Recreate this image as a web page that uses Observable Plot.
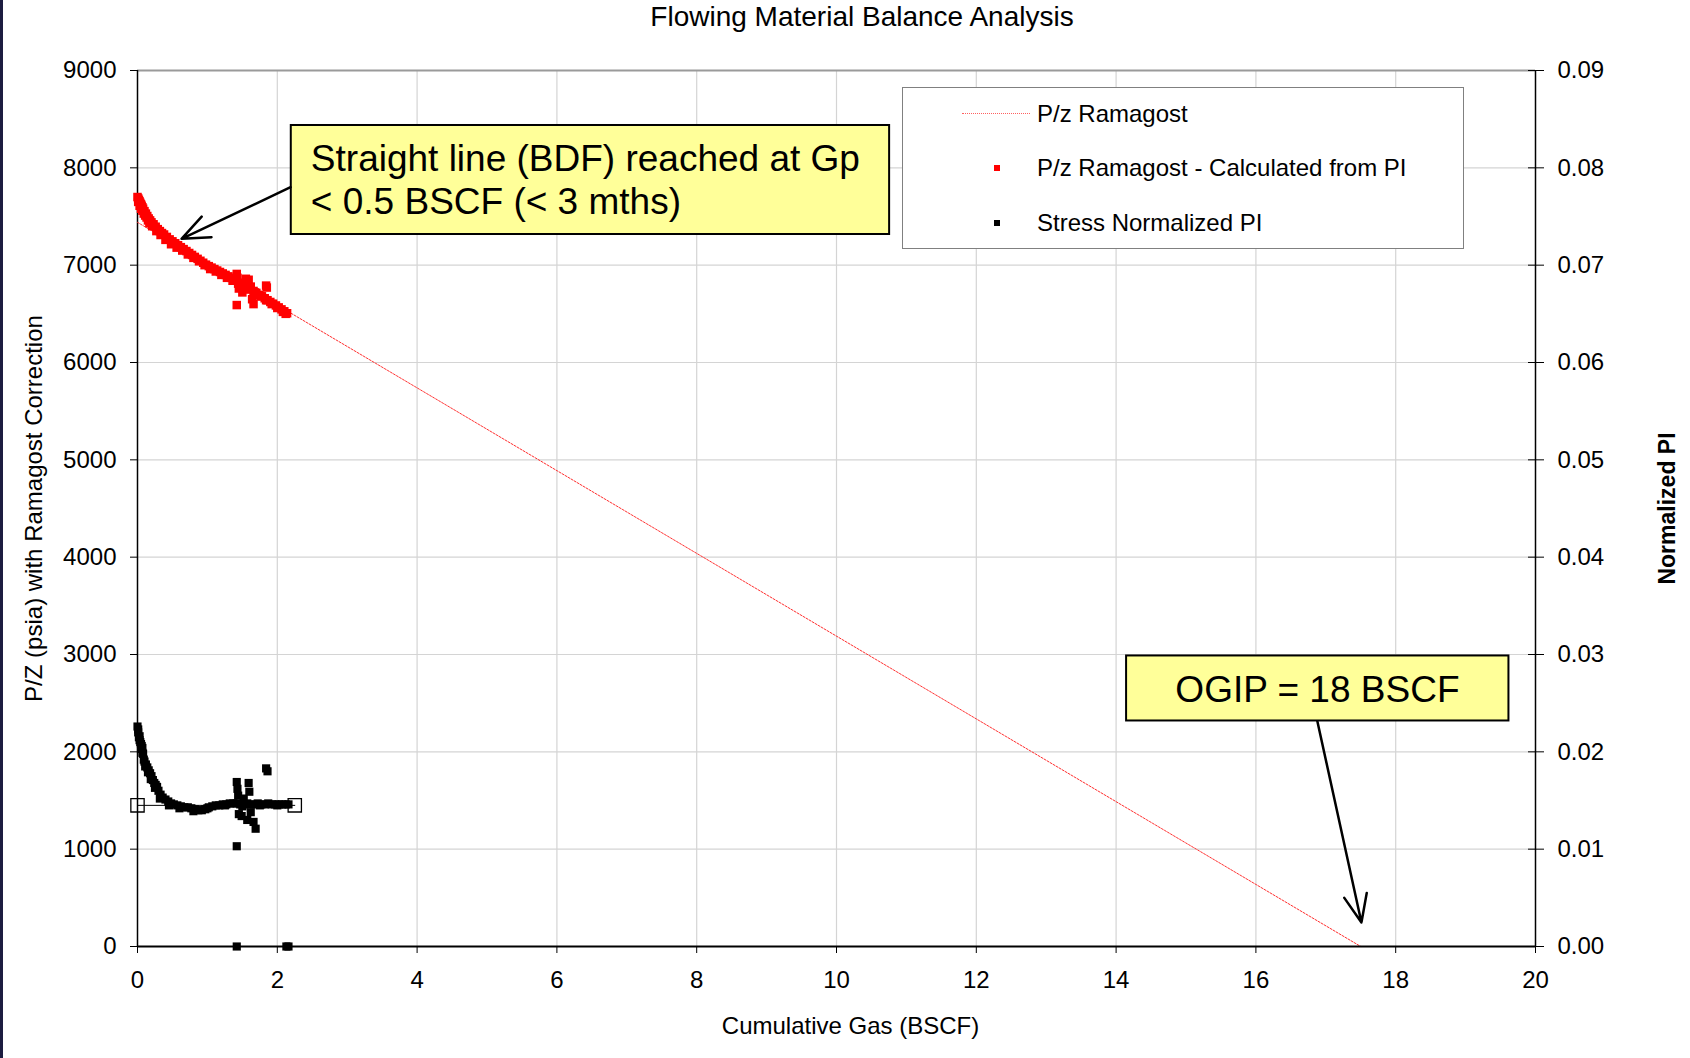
<!DOCTYPE html>
<html>
<head>
<meta charset="utf-8">
<script src="https://cdn.jsdelivr.net/npm/d3@7"></script>
<script src="https://cdn.jsdelivr.net/npm/@observablehq/plot@0.6"></script>
<style>
  html, body { margin: 0; padding: 0; background: #fff; }
  body { width: 1690px; height: 1058px; position: relative; overflow: hidden; font-family: "Liberation Sans", Arial, sans-serif; }
  #edge { position: absolute; left: 0; top: 0; width: 3px; height: 1058px; background: #1c1c40; }
  #title { height: 40px; line-height: 34px; font-size: 28px; text-align: center; padding-left: 34px; color: #000; }
  #legend { position: absolute; left: 902px; top: 87px; width: 560px; height: 160px; border: 1.5px solid #808080; background: #fff; font-size: 24px; }
  #legend .row { position: absolute; left: 0; height: 30px; width: 100%; }
  #legend .lbl { position: absolute; left: 134px; top: 0; line-height: 30px; white-space: nowrap; }
  #legend .ln { position: absolute; left: 59px; top: 14px; width: 68px; height: 0; border-top: 1.5px dotted #ff6060; }
  #legend .sq { position: absolute; left: 91px; top: 12px; width: 6px; height: 6px; }
</style>
</head>
<body>
<div id="edge"></div>
<div id="title">Flowing Material Balance Analysis</div>
<div id="chart"></div>
<div id="legend"></div>
<script>
// ---- Data ----
// P/z Ramagost - Calculated from PI (Cumulative gas BSCF, P/z psia)
const redX = [0.00,0.01,0.02,0.03,0.04,0.05,0.06,0.07,0.08,0.10,0.12,0.14,0.16,0.18,0.20,0.23,0.26,0.29,0.32,0.35,0.38,0.42,0.46,0.50,0.54,0.58,0.62,0.66,0.70,0.74,0.78,0.82,0.86,0.90,0.94,0.98,1.02,1.06,1.10,1.14,1.18,1.22,1.26,1.30,1.34,1.38,1.42,1.46,1.50,1.54,1.58,1.62,1.66,1.70,1.74,1.78,1.82,1.86,1.90,1.94,1.98,2.02,2.06,2.10,2.14,
  0.01,0.03,0.05,0.07,0.09,0.11,0.13,0.15,0.17,0.21,0.27,0.33,0.40,0.48,0.56,0.64,0.72,0.80,0.88,0.96,1.04,1.12,1.20,1.28,1.36,1.44,1.52,1.60,1.68,1.76,1.84,1.92,2.00,2.08,2.12,
  1.42,1.43,1.42,1.45,1.50,1.55,1.59,1.62,1.64,1.66,1.84,1.85];
const redY = [7700,7685,7670,7655,7640,7625,7610,7595,7580,7555,7530,7505,7480,7460,7440,7420,7395,7370,7350,7330,7315,7290,7265,7245,7225,7205,7185,7165,7145,7125,7105,7085,7065,7045,7025,7005,6990,6975,6960,6945,6930,6915,6900,6885,6870,6855,6840,6820,6805,6790,6770,6755,6735,6715,6695,6680,6660,6640,6622,6604,6586,6566,6546,6526,6506,
  7650,7610,7580,7560,7530,7510,7490,7460,7430,7400,7350,7310,7260,7215,7180,7150,7110,7075,7040,7000,6960,6935,6900,6870,6840,6810,6785,6750,6720,6680,6640,6600,6560,6520,6500,
  6910,6870,6590,6760,6720,6860,6850,6780,6650,6600,6790,6770];

// Stress Normalized PI (Cumulative gas BSCF, normalized PI)
const piX = [0.00,0.01,0.02,0.03,0.04,0.05,0.06,0.07,0.08,0.09,0.10,0.12,0.14,0.16,0.18,0.20,0.22,0.24,0.26,0.28,0.30,0.33,0.36,0.40,0.44,0.48,0.52,0.57,0.62,0.67,0.72,0.77,0.82,0.87,0.92,0.97,1.02,1.07,1.12,1.17,1.22,1.27,1.32,1.37,1.42,1.47,1.52,1.57,1.62,1.67,1.72,1.77,1.82,1.87,1.92,1.97,2.02,2.07,2.12,2.16,
  0.01,0.03,0.05,0.07,0.11,0.15,0.19,0.25,0.32,0.45,0.60,0.80,1.00,1.25,1.50,1.75,2.00,
  1.42,1.43,1.44,1.45,1.49,1.52,1.57,1.59,1.60,1.62,1.66,1.69,1.84,1.86,1.42,1.42,2.13,2.16];
const piY = [0.0226,0.0220,0.0215,0.0212,0.0210,0.0208,0.0206,0.0204,0.0198,0.0192,0.0190,0.0187,0.0184,0.0181,0.0178,0.0175,0.0171,0.0168,0.0166,0.0164,0.0160,0.0156,0.0153,0.0151,0.0149,0.0147,0.0146,0.0145,0.0144,0.0143,0.0143,0.0142,0.0141,0.0140,0.0140,0.0141,0.0143,0.0144,0.0145,0.0145,0.0146,0.0146,0.0147,0.0147,0.0147,0.0146,0.0146,0.0147,0.0146,0.0146,0.0147,0.0146,0.0146,0.0147,0.0146,0.0146,0.0146,0.0146,0.0146,0.0146,
  0.0223,0.0216,0.0203,0.0199,0.0185,0.0179,0.0172,0.0163,0.0152,0.0145,0.0142,0.0139,0.0142,0.0145,0.0144,0.0145,0.0145,
  0.0169,0.0162,0.0155,0.0136,0.0134,0.0152,0.0130,0.0168,0.0159,0.0138,0.0128,0.0121,0.0183,0.0180,0.0103,0.0000,0.0000,0.0000];

// Average PI reference line (hollow squares at ends)
const avgX = [0.00, 2.25];
const avgPI = [0.0145, 0.0145];

// P/z Ramagost straight line
const lineX = [0, 17.5];
const lineY = [7440, 0];

// Tick values
const xTicks = [0,2,4,6,8,10,12,14,16,18,20];
const yTicks = [0,1000,2000,3000,4000,5000,6000,7000,8000,9000];
const piTickLabels = ["0.00","0.01","0.02","0.03","0.04","0.05","0.06","0.07","0.08","0.09"];

// Annotations
const note1Text = ["Straight line (BDF) reached at Gp\n< 0.5 BSCF (< 3 mths)"];
const note2Text = ["OGIP = 18 BSCF"];

// ---- Build ----
const PI_TO_Y = 100000; // right axis 0..0.09 maps onto left 0..9000
const red = redX.map((x, i) => ({x, y: redY[i]}));
const pi = piX.map((x, i) => ({x, y: piY[i] * PI_TO_Y}));
const avg = avgX.map((x, i) => ({x, y: avgPI[i] * PI_TO_Y}));
const ramLine = lineX.map((x, i) => ({x, y: lineY[i]}));

const boxes = [
  {x1: 2.20, x2: 10.76, y1: 7315, y2: 8435},
  {x1: 14.15, x2: 19.62, y1: 2317, y2: 2985}
];
const arrows = [
  {x1: 2.19, y1: 7801, x2: 0.63, y2: 7271},
  {x1: 16.88, y1: 2312, x2: 17.51, y2: 247}
];

const fontFamily = "'Liberation Sans', Arial, sans-serif";

const chart = Plot.plot({
  width: 1690,
  height: 1018,
  marginLeft: 137,
  marginRight: 155,
  marginTop: 30,
  marginBottom: 112,
  x: {domain: [0, 20]},
  y: {domain: [0, 9000]},
  style: {fontFamily, background: "transparent", overflow: "visible", color: "#000"},
  marks: [
    Plot.gridX(xTicks.filter(d => d > 0 && d < 20), {stroke: "#d4d4d4", strokeOpacity: 1, strokeWidth: 1.2}),
    Plot.gridY(yTicks.filter(d => d > 0 && d < 9000), {stroke: "#d4d4d4", strokeOpacity: 1, strokeWidth: 1.2}),
    Plot.ruleY([9000], {stroke: "#9a9a9a", strokeWidth: 2}),
    Plot.axisX({ticks: xTicks, tickSize: 7, tickPadding: 17, fontSize: 24, label: null, tickFormat: d => String(d)}),
    Plot.axisY({ticks: yTicks, anchor: "left", tickSize: 7, tickPadding: 14, fontSize: 24, label: null, tickFormat: d => String(d)}),
    Plot.axisY({ticks: yTicks, anchor: "right", tickSize: 8, tickPadding: 14, fontSize: 24, label: null, tickFormat: (d, i) => piTickLabels[i]}),
    Plot.ruleY(yTicks, {x1: 19.9, x2: 20, stroke: "#000", strokeWidth: 1}),
    Plot.ruleX([0], {stroke: "#000", strokeWidth: 1.5}),
    Plot.ruleX([20], {stroke: "#000", strokeWidth: 1.5}),
    Plot.line(ramLine, {x: "x", y: "y", stroke: "#ff3030", strokeWidth: 1, strokeDasharray: "2,1.5"}),
    Plot.dot(red, {x: "x", y: "y", symbol: "square", r: 4.8, fill: "#ff0000", stroke: "none"}),
    Plot.line(avg, {x: "x", y: "y", stroke: "#000", strokeWidth: 1}),
    Plot.dot(pi, {x: "x", y: "y", symbol: "square", r: 4.6, fill: "#000", stroke: "none"}),
    Plot.dot(avg, {x: "x", y: "y", symbol: "square", r: 7.5, fill: "none", stroke: "#000", strokeWidth: 1.3}),
    Plot.ruleY([0], {stroke: "#000", strokeWidth: 2}),
    Plot.rect(boxes, {x1: "x1", x2: "x2", y1: "y1", y2: "y2", fill: "#ffff99", stroke: "#000", strokeWidth: 2}),
    Plot.arrow(arrows, {x1: "x1", y1: "y1", x2: "x2", y2: "y2", stroke: "#000", strokeWidth: 2.5, headLength: 18, headAngle: 45}),
    Plot.text(note1Text, {x: 2.48, y: 8275, text: d => d, textAnchor: "start", lineAnchor: "top", lineHeight: 1.15, fontSize: 37, fill: "#000"}),
    Plot.text(note2Text, {x: 16.88, y: 2630, text: d => d, textAnchor: "middle", fontSize: 37, fill: "#000"}),
    Plot.text(["P/Z (psia) with Ramagost Correction"], {frameAnchor: "left", textAnchor: "middle", rotate: -90, dx: -103, dy: 0, fontSize: 24, fill: "#000"}),
    Plot.text(["Normalized PI"], {frameAnchor: "right", textAnchor: "middle", rotate: -90, dx: 132, dy: 0, fontSize: 23, fontWeight: "bold", fill: "#000"}),
    Plot.text(["Cumulative Gas (BSCF)"], {frameAnchor: "bottom", dx: 14, dy: 87, fontSize: 24, fill: "#000"})
  ]
});
document.getElementById("chart").appendChild(chart);

// Legend
const legendItems = [
  {label: "P/z Ramagost", kind: "line", color: "#ff6060", top: 11},
  {label: "P/z Ramagost - Calculated from PI", kind: "sq", color: "#ff0000", top: 65},
  {label: "Stress Normalized PI", kind: "sq", color: "#000000", top: 120}
];
const legend = document.getElementById("legend");
for (const it of legendItems) {
  const row = document.createElement("div");
  row.className = "row";
  row.style.top = it.top + "px";
  const sym = document.createElement("div");
  sym.className = it.kind === "line" ? "ln" : "sq";
  if (it.kind === "line") sym.style.borderTopColor = it.color; else sym.style.background = it.color;
  const lbl = document.createElement("div");
  lbl.className = "lbl";
  lbl.textContent = it.label;
  row.appendChild(sym);
  row.appendChild(lbl);
  legend.appendChild(row);
}
</script>
</body>
</html>
